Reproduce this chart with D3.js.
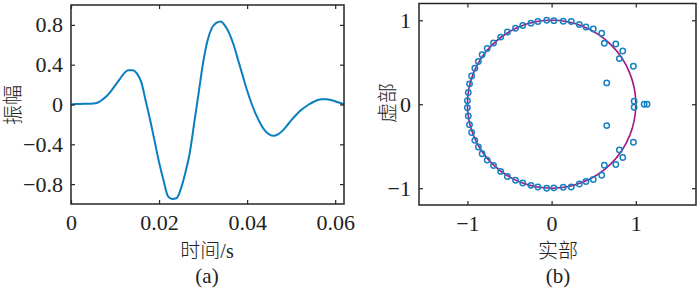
<!DOCTYPE html>
<html>
<head>
<meta charset="utf-8">
<script src="https://cdn.jsdelivr.net/npm/d3@7"></script>
<style>
	body { margin: 0; background: #fff; }
	svg { display: block; }
	.tick text { font-family: "Liberation Serif", "Times New Roman", serif; font-size: 22px; fill: #222; }
	.lbl { font-family: "Liberation Serif", "Noto Sans CJK SC", serif; font-size: 20px; font-weight: 300; fill: #222; }
</style>
</head>
<body>
<svg width="700" height="290"></svg>
<script>
// (a) waveform, one sample every 0.001 s
var time = [0, 0.001, 0.002, 0.003, 0.004, 0.005, 0.006, 0.007, 0.008, 0.009,
	0.010, 0.011, 0.012, 0.013, 0.014, 0.015, 0.016, 0.017, 0.018, 0.019,
	0.020, 0.021, 0.022, 0.023, 0.024, 0.025, 0.026, 0.027, 0.028, 0.029,
	0.030, 0.031, 0.032, 0.033, 0.034, 0.035, 0.036, 0.037, 0.038, 0.039,
	0.040, 0.041, 0.042, 0.043, 0.044, 0.045, 0.046, 0.047, 0.048, 0.049,
	0.050, 0.051, 0.052, 0.053, 0.054, 0.055, 0.056, 0.057, 0.058, 0.059,
	0.060, 0.061, 0.062];
var amplitude = [0.0, 0.004, 0.006, 0.007, 0.007, 0.009, 0.018, 0.045, 0.08, 0.13,
	0.19, 0.25, 0.31, 0.345, 0.345, 0.31, 0.22, 0.03, -0.16, -0.37,
	-0.58, -0.76, -0.92, -0.95, -0.94, -0.84, -0.68, -0.48, -0.18, 0.12,
	0.42, 0.64, 0.77, 0.82, 0.835, 0.79, 0.71, 0.59, 0.44, 0.29,
	0.14, 0.01, -0.10, -0.19, -0.26, -0.30, -0.315, -0.30, -0.265, -0.215,
	-0.16, -0.11, -0.065, -0.03, 0.0, 0.025, 0.045, 0.053, 0.052, 0.045,
	0.033, 0.018, 0.003];
var xTicksA = [0, 0.02, 0.04, 0.06];
var xTickLabelsA = ["0", "0.02", "0.04", "0.06"];
var yTicksA = [-0.8, -0.4, 0, 0.4, 0.8];
var yTickLabelsA = ["\u22120.8", "\u22120.4", "0", "0.4", "0.8"];

// (b) zeros of the waveform
var zeroRe = [-1.000, -0.990, -0.975, -0.950, -0.912, -0.870, -0.825, -0.765, -0.690, -0.605,
	-0.525, -0.429, -0.343, -0.245, -0.163, -0.058, 0.027, 0.138, 0.233, 0.329,
	0.408, 0.495, 0.595, 0.626, 0.762, 0.845, 0.805, 0.971, 0.655, 0.980,
	-1.000, -0.990, -0.975, -0.950, -0.912, -0.870, -0.825, -0.765, -0.690, -0.605,
	-0.525, -0.429, -0.343, -0.245, -0.163, -0.058, 0.027, 0.138, 0.233, 0.329,
	0.408, 0.495, 0.595, 0.626, 0.762, 0.845, 0.805, 0.971, 0.655, 0.980,
	1.099, 1.134];
var zeroIm = [0.042, 0.140, 0.243, 0.336, 0.430, 0.510, 0.590, 0.665, 0.730, 0.800,
	0.860, 0.905, 0.938, 0.966, 0.986, 1.000, 0.996, 0.988, 0.985, 0.949,
	0.920, 0.896, 0.845, 0.726, 0.718, 0.635, 0.544, 0.452, 0.254, 0.036,
	-0.042, -0.140, -0.243, -0.336, -0.430, -0.510, -0.590, -0.665, -0.730, -0.800,
	-0.860, -0.905, -0.938, -0.966, -0.986, -1.000, -0.996, -0.988, -0.985, -0.949,
	-0.920, -0.896, -0.845, -0.726, -0.718, -0.635, -0.544, -0.452, -0.254, -0.036,
	0, 0];
var ticksB = [-1, 0, 1];
var tickLabelsB = ["\u22121", "0", "1"];

var svg = d3.select("svg");
var axisColor = "#262626";

function frame(g, x, y, xt, xl, yt, yl) {
	var x0 = x.range()[0], x1 = x.range()[1], y0 = y.range()[0], y1 = y.range()[1];
	g.append("g").attr("transform", "translate(0," + y0 + ")")
		.call(d3.axisBottom(x).tickValues(xt).tickFormat(function(d, i) { return xl[i]; })
			.tickSizeInner(-4).tickSizeOuter(0).tickPadding(10));
	g.append("g").attr("transform", "translate(0," + y1 + ")")
		.call(d3.axisTop(x).tickValues(xt).tickFormat("").tickSizeInner(-4).tickSizeOuter(0));
	g.append("g").attr("transform", "translate(" + x0 + ",0)")
		.call(d3.axisLeft(y).tickValues(yt).tickFormat(function(d, i) { return yl[i]; })
			.tickSizeInner(-4).tickSizeOuter(0).tickPadding(8));
	g.append("g").attr("transform", "translate(" + x1 + ",0)")
		.call(d3.axisRight(y).tickValues(yt).tickFormat("").tickSizeInner(-4).tickSizeOuter(0));
	g.selectAll(".domain").attr("stroke", "none");
	g.selectAll(".tick line").attr("stroke", axisColor).attr("stroke-width", 1.2);
	g.append("rect")
		.attr("x", x0).attr("y", y1)
		.attr("width", x1 - x0).attr("height", y0 - y1)
		.attr("fill", "none").attr("stroke", axisColor).attr("stroke-width", 1.5);
}

// ---- (a)
var gA = svg.append("g");
var xA = d3.scaleLinear().domain([0, 0.062]).range([71, 344]);
var yA = d3.scaleLinear().domain([-1, 1]).range([204, 5]);

gA.append("path")
	.datum(d3.zip(time, amplitude))
	.attr("fill", "none")
	.attr("stroke", "#0a7fc0")
	.attr("stroke-width", 2)
	.attr("stroke-linejoin", "round")
	.attr("d", d3.line().curve(d3.curveMonotoneX)
		.x(function(d) { return xA(d[0]); })
		.y(function(d) { return yA(d[1]); }));

frame(gA, xA, yA, xTicksA, xTickLabelsA, yTicksA, yTickLabelsA);

gA.append("text").attr("class", "lbl")
	.attr("transform", "translate(13,105) rotate(-90)")
	.attr("text-anchor", "middle").attr("dy", "0.35em")
	.text("振幅");
gA.append("text").attr("class", "lbl")
	.attr("x", 207).attr("y", 258).attr("text-anchor", "middle")
	.text("时间/s");
gA.append("text").attr("class", "lbl")
	.attr("x", 207).attr("y", 283).attr("text-anchor", "middle")
	.style("font-size", "21px")
	.text("(a)");

// ---- (b)
var gB = svg.append("g");
var xB = d3.scaleLinear().domain([-1.575, 1.715]).range([419, 696]);
var yB = d3.scaleLinear().domain([-1.2, 1.2]).range([205, 3.5]);

// unit circle
gB.append("ellipse")
	.attr("cx", xB(0)).attr("cy", yB(0))
	.attr("rx", xB(1) - xB(0)).attr("ry", yB(0) - yB(1))
	.attr("fill", "none")
	.attr("stroke", "#a2197e")
	.attr("stroke-width", 1.6);

gB.selectAll("circle.zero")
	.data(d3.zip(zeroRe, zeroIm))
	.join("circle")
	.attr("class", "zero")
	.attr("cx", function(d) { return xB(d[0]); })
	.attr("cy", function(d) { return yB(d[1]); })
	.attr("r", 2.7)
	.attr("fill", "none")
	.attr("stroke", "#1582c5")
	.attr("stroke-width", 1.5);

frame(gB, xB, yB, ticksB, tickLabelsB, ticksB, tickLabelsB);

gB.append("text").attr("class", "lbl")
	.attr("transform", "translate(388,103) rotate(-90)")
	.attr("text-anchor", "middle").attr("dy", "0.35em")
	.text("虚部");
gB.append("text").attr("class", "lbl")
	.attr("x", 558).attr("y", 258).attr("text-anchor", "middle")
	.text("实部");
gB.append("text").attr("class", "lbl")
	.attr("x", 558).attr("y", 283).attr("text-anchor", "middle")
	.style("font-size", "21px")
	.text("(b)");
</script>
</body>
</html>
